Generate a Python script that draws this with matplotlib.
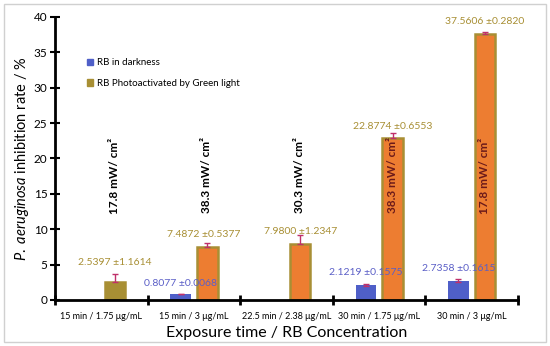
import numpy as np
import matplotlib.pyplot as plt
from matplotlib.patches import Rectangle

plt.rcParams['font.family'] = ['Lato', 'DejaVu Sans']
plt.rcParams['mathtext.fontset'] = 'custom'
plt.rcParams['mathtext.it'] = 'Lato:italic'
plt.rcParams['mathtext.rm'] = 'Lato'

categories = ['15 min / 1.75 μg/mL', '15 min / 3 μg/mL', '22.5 min / 2.38 μg/mL',
              '30 min / 1.75 μg/mL', '30 min / 3 μg/mL']
dark = [0, 0.8077, 0.05, 2.1219, 2.7358]
dark_err = [0, 0.0068, 0, 0.1575, 0.1615]
green = [2.5397, 7.4872, 7.9800, 22.8774, 37.5606]
green_err = [1.1614, 0.5377, 1.2347, 0.6553, 0.2820]
dark_labels = ['', '0.8077 ±0.0068', '', '2.1219 ±0.1575', '2.7358 ±0.1615']
green_labels = ['2.5397 ±1.1614', '7.4872 ±0.5377', '7.9800 ±1.2347',
                '22.8774 ±0.6553', '37.5606 ±0.2820']
power = ['17.8 mW/ cm²', '38.3 mW/ cm²', '30.3 mW/ cm²', '38.3 mW/ cm²', '17.8 mW/ cm²']

blue = '#4F5FC8'
orange = '#ED7D31'
olive = '#A88F34'
err_col = '#C0306A'

fig = plt.figure(figsize=(5.5, 3.46), dpi=100)
fig.patches.append(Rectangle((0.008, 0.012), 0.984, 0.976, transform=fig.transFigure,
                             fill=False, edgecolor='#d0d0d0', linewidth=1))
ax = fig.add_axes([0.1, 0.133, 0.842, 0.818])

x = np.arange(len(categories))
off = 0.145
w = 0.22
ax.bar(x - off, dark, w, color=blue, zorder=2)
has_err = [i for i in range(5) if dark_err[i] > 0]
ax.errorbar(x[has_err] - off, [dark[i] for i in has_err],
            yerr=[dark_err[i] for i in has_err], fmt='none', ecolor=err_col,
            elinewidth=1, capsize=2, zorder=3)
facecols = [olive] + [orange] * 4
ax.bar(x + off, green, w, color=facecols, edgecolor=olive, linewidth=1.8, zorder=2)
ax.errorbar(x + off, green, yerr=[[0] * 5, green_err], fmt='none', ecolor=err_col,
            elinewidth=1, capsize=2, zorder=3)

# value labels
for i in range(5):
    if dark_labels[i]:
        ax.text(x[i] - off, dark[i] + dark_err[i] + 0.9, dark_labels[i], color='#5B5FC7',
                fontsize=7.5, ha='center', va='bottom')
label_pos = [(0.14, 4.7), (0.1, 8.6), (0.15, 9.0), (0.15, 23.9), (0.14, 38.7)]
for i in range(5):
    dx, yy = label_pos[i]
    ax.text(x[i] + dx, yy, green_labels[i], color=olive, fontsize=7.5,
            ha='center', va='bottom')

# light power labels
power_col = ['black', 'black', 'black', '#6B1A1A', '#6B1A1A']
for i in range(5):
    ax.text(x[i] + 0.14, 17.6, power[i], rotation=90, color=power_col[i],
            fontsize=8.5, fontweight='bold', ha='center', va='center')

ax.set_xlim(-0.5, 4.5)
ax.set_ylim(0, 40)
ax.set_yticks(range(0, 41, 5))
ax.set_xticks(np.arange(-0.5, 4.6, 1))
ax.set_xticklabels([])
ax.set_xticks(x, minor=True)
ax.set_xticklabels(categories, minor=True, fontsize=6.5)
ax.tick_params(axis='x', which='minor', length=0, pad=9)
ax.tick_params(axis='x', which='major', direction='inout', length=7, width=2)
ax.tick_params(axis='y', direction='inout', length=7, width=1.5, labelsize=8.5, pad=2)
for s in ['top', 'right']:
    ax.spines[s].set_visible(False)
ax.spines['left'].set_linewidth(2)
ax.spines['bottom'].set_linewidth(2)

ax.set_xlabel('Exposure time / RB Concentration', fontsize=11.5, labelpad=3)
ax.set_ylabel(r'$\it{P.\ aeruginosa}$ inhibition rate / %', fontsize=10.5, labelpad=2)

handles = [Rectangle((0, 0), 1, 1, color=blue), Rectangle((0, 0), 1, 1, color=olive)]
ax.legend(handles, ['RB in darkness', 'RB Photoactivated by Green light'],
          loc='upper left', bbox_to_anchor=(0.05, 0.885), frameon=False, fontsize=7,
          handlelength=0.6, handleheight=0.6, handletextpad=0.4, labelspacing=1.2)

fig.savefig('out.png', dpi=100)
